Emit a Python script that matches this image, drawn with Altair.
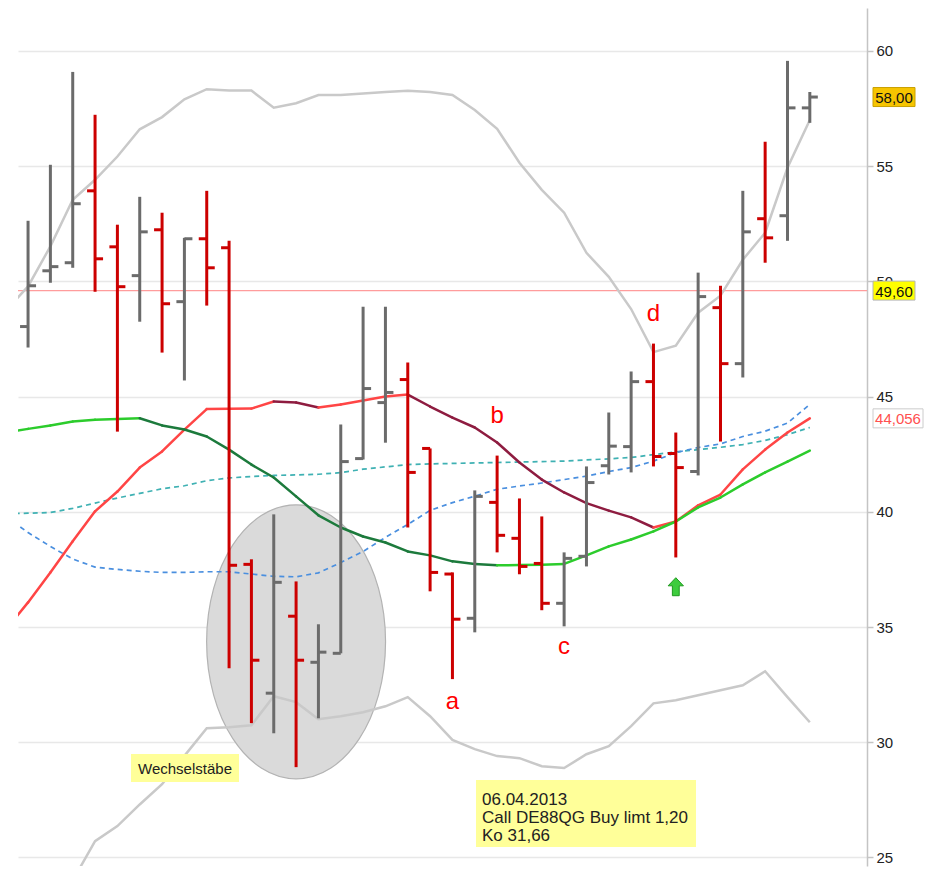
import altair as alt
import pandas as pd

# ---------------- data ----------------
bar_index = list(range(36))
opens  = [48.04, 50.46, 50.81, 53.93, 51.50, 50.25, 52.24, 49.12, 51.85, 51.46,
          37.72, 32.13, 35.47, 33.47, 33.86, 42.31, 44.74, 45.74, 42.75, 37.30,
          35.38, 40.41, 38.85, 37.76, 36.03, 38.07, 42.00, 42.83, 45.65, 42.53,
          41.75, 48.86, 46.43, 52.72, 52.85, 57.53]
highs  = [52.63, 55.06, 59.09, 57.23, 52.46, 53.67, 52.98, 51.89, 53.93, 51.76,
          37.94, 39.89, 36.98, 35.12, 43.79, 48.90, 48.90, 46.48, 42.75, 37.37,
          40.93, 42.44, 40.58, 39.80, 38.24, 41.97, 44.31, 46.09, 47.30, 43.44,
          50.38, 49.81, 53.93, 56.06, 59.57, 58.22]
lows   = [47.13, 49.94, 50.59, 49.55, 43.48, 48.25, 46.91, 45.70, 48.95, 33.21,
          30.83, 30.39, 28.92, 31.04, 33.86, 42.27, 43.00, 39.32, 36.55, 32.74,
          34.77, 38.24, 37.29, 35.73, 35.03, 37.63, 41.62, 41.71, 41.97, 38.02,
          41.58, 43.05, 45.83, 50.81, 51.76, 56.88]
closes = [49.81, 50.64, 53.37, 50.98, 49.77, 52.15, 49.03, 51.85, 50.59, 37.68,
          33.56, 36.94, 33.56, 33.91, 42.18, 45.35, 45.18, 41.71, 37.37, 35.34,
          40.67, 38.98, 37.63, 36.03, 37.98, 41.27, 42.85, 45.65, 42.40, 41.92,
          49.34, 46.43, 52.15, 51.89, 57.53, 58.00]

# indicator lines (index -1 is the bar just left of the visible area)
line_index = list(range(-1, 36))
upper_band = [48.73, 49.78, 51.52, 53.54, 54.41, 55.42, 56.60, 57.13, 57.90, 58.34,
              58.28, 58.28, 57.54, 57.73, 58.09, 58.09, 58.15, 58.22, 58.27, 58.22,
              58.09, 57.44, 56.62, 55.15, 53.97, 52.98, 51.24, 50.20, 48.80, 46.93,
              47.21, 48.64, 49.38, 50.94, 52.11, 54.93, 57.00]
lower_index = list(range(2, 36))
lower_band = [24.00, 25.71, 26.36, 27.30, 28.18, 29.41, 30.61, 30.65, 30.74, 32.00,
              31.74, 31.00, 31.13, 31.30, 31.56, 31.96, 31.13, 30.10, 29.70, 29.40,
              29.31, 28.96, 28.88, 29.48, 29.83, 30.70, 31.69, 31.82, 32.04, 32.26,
              32.47, 33.08, 31.96, 30.87]
red_ma = [34.87, 36.07, 37.37, 38.72, 40.02, 40.88, 41.92, 42.62, 43.57, 44.46,
          44.47, 44.48, 44.79, 44.74, 44.53, 44.66, 44.83, 45.00, 45.09, 44.57,
          44.09, 43.66, 43.01, 42.14, 41.40, 40.84, 40.38, 40.05, 39.76, 39.32,
          39.58, 40.28, 40.75, 41.84, 42.70, 43.44, 44.056]
green_ma = [43.45, 43.60, 43.75, 43.92, 44.00, 44.03, 44.06, 43.75, 43.57, 43.27,
            42.70, 42.05, 41.49, 40.67, 39.85, 39.32, 38.93, 38.67, 38.28, 38.11,
            37.85, 37.74, 37.68, 37.69, 37.70, 37.74, 38.11, 38.50, 38.80, 39.15,
            39.58, 40.19, 40.62, 41.19, 41.71, 42.18, 42.66]
teal_dash = [39.92, 39.94, 39.97, 40.15, 40.38, 40.60, 40.80, 41.00, 41.13, 41.35,
             41.47, 41.53, 41.58, 41.60, 41.63, 41.70, 41.85, 41.95, 42.05, 42.08,
             42.10, 42.12, 42.14, 42.16, 42.18, 42.20, 42.25, 42.30, 42.36, 42.48,
             42.60, 42.70, 42.80, 42.92, 43.10, 43.35, 43.66]
blue_dash = [39.80, 39.10, 38.50, 37.95, 37.60, 37.50, 37.42, 37.37, 37.37, 37.40,
             37.40, 37.30, 37.20, 37.18, 37.35, 37.80, 38.28, 38.89, 39.45, 40.06,
             40.40, 40.68, 40.98, 41.12, 41.25, 41.40, 41.55, 41.75, 41.92, 42.20,
             42.57, 42.79, 42.95, 43.27, 43.50, 43.85, 44.66]

ref_level = 49.60
y_ticks = [25, 30, 35, 40, 45, 50, 55, 60]

# annotations
letters = ["a", "b", "c", "d"]
letter_index = [19.0, 21.0, 24.0, 28.0]
letter_value = [31.45, 43.86, 33.84, 48.26]
arrow_index, arrow_value = [29.0], [36.75]
ellipse_index, ellipse_value = [12.0], [34.36]
price_labels = [("58,00", 58.00), ("49,60", 49.60), ("44,056", 44.056)]

FONT = "Liberation Sans"

# ---------------- scales ----------------
xs = alt.Scale(domain=[-0.45, 37.56], nice=False, zero=False)
ys = alt.Scale(domain=[24.63, 61.864], nice=False, zero=False)

def X(f):
    return alt.X(f, type="quantitative", scale=xs, axis=None, title=None)

def Y(f, axis=alt.Undefined):
    return alt.Y(f, type="quantitative", scale=ys, axis=axis, title=None)

# ---------------- tables ----------------
ohlc = pd.DataFrame({"i": bar_index, "open": opens, "high": highs,
                     "low": lows, "close": closes})
ohlc["dir"] = ["down" if c < o else "up" for o, c in zip(opens, closes)]
bar_color = alt.Color("dir:N", scale=alt.Scale(domain=["up", "down"],
                                               range=["#6b6b6b", "#cc0000"]), legend=None)

bands = pd.concat([
    pd.DataFrame({"i": line_index, "v": upper_band, "s": "upper"}),
    pd.DataFrame({"i": lower_index, "v": lower_band, "s": "lower"}),
])
dashes = pd.concat([
    pd.DataFrame({"i": line_index, "v": teal_dash, "s": "teal"}),
    pd.DataFrame({"i": line_index, "v": blue_dash, "s": "blue"}),
])

seg_rows = []
for name, vals in (("red", red_ma), ("green", green_ma)):
    for k in range(len(vals) - 1):
        d = "up" if vals[k + 1] >= vals[k] else "dn"
        for j in (k, k + 1):
            seg_rows.append({"i": line_index[j], "v": vals[j],
                             "seg": f"{name}{k}", "key": f"{name}_{d}"})
segs = pd.DataFrame(seg_rows)

# ---------------- layers ----------------
axis_y = alt.Axis(orient="right", values=y_ticks, format="d", grid=True,
                  gridColor="#e8e8e8", gridWidth=1.5, domainColor="#c4c4c4",
                  domainWidth=1.5, tickColor="#c4c4c4", tickSize=6, tickWidth=1.5,
                  labelFont=FONT, labelFontSize=15, labelColor="#222222",
                  labelPadding=3)

base_axis = alt.Chart(pd.DataFrame({"v": y_ticks})).mark_point(opacity=0).encode(
    y=Y("v", axis=axis_y))

ELLIPSE = "M -0.653 0 A 0.653 1 0 1 0 0.653 0 A 0.653 1 0 1 0 -0.653 0 Z"
ellipse = alt.Chart(pd.DataFrame({"i": ellipse_index, "v": ellipse_value})).mark_point(
    shape=ELLIPSE, size=75076, filled=True, fill="#dadada", stroke="#b3b3b3",
    strokeWidth=1.2, opacity=1, fillOpacity=1
).encode(x=X("i"), y=Y("v"))

ref_line = alt.Chart(pd.DataFrame({"v": [ref_level]})).mark_rule(
    color="#ff9c9c", strokeWidth=1.2).encode(y=Y("v"))

band_lines = alt.Chart(bands).mark_line(color="#c9c9c9", strokeWidth=2.5, clip=True).encode(
    x=X("i"), y=Y("v"), detail="s:N")

dash_lines = alt.Chart(dashes).mark_line(strokeWidth=1.7, strokeDash=[5, 4], clip=True).encode(
    x=X("i"), y=Y("v"),
    color=alt.Color("s:N", scale=alt.Scale(domain=["teal", "blue"],
                                           range=["#3fb1b3", "#4a8fdf"]), legend=None))

ma_lines = alt.Chart(segs).mark_line(strokeWidth=2.5, strokeCap="round", clip=True).encode(
    x=X("i"), y=Y("v"), detail="seg:N",
    color=alt.Color("key:N", scale=alt.Scale(
        domain=["red_up", "red_dn", "green_up", "green_dn"],
        range=["#ff4545", "#8e1c40", "#2ccc2c", "#1c7a3c"]), legend=None))

hl = alt.Chart(ohlc).mark_rule(strokeWidth=3, clip=True).encode(
    x=X("i"), y=Y("low"), y2="high:Q", color=bar_color)
op = alt.Chart(ohlc).mark_rule(strokeWidth=3, x2Offset=-8, clip=True).encode(
    x=X("i"), x2="i:Q", y=Y("open"), color=bar_color)
cl = alt.Chart(ohlc).mark_rule(strokeWidth=3, x2Offset=8, clip=True).encode(
    x=X("i"), x2="i:Q", y=Y("close"), color=bar_color)

letter_txt = alt.Chart(pd.DataFrame({"t": letters, "i": letter_index, "v": letter_value})).mark_text(
    font=FONT, fontSize=24, color="#ff0000", align="center", baseline="alphabetic").encode(
    x=X("i"), y=Y("v"), text="t:N")

ARROW = "M 0 -1 L 0.85 -0.1 L 0.38 -0.1 L 0.38 1 L -0.38 1 L -0.38 -0.1 L -0.85 -0.1 Z"
arrow = alt.Chart(pd.DataFrame({"i": arrow_index, "v": arrow_value})).mark_point(
    shape=ARROW, size=324, filled=True, fill="#3dcc3d", stroke="#1f9a1f",
    strokeWidth=1, opacity=1).encode(x=X("i"), y=Y("v"))

# note boxes (pixel positions inside the plot area)
one = pd.DataFrame({"d": [0]})
wech_box = alt.Chart(one).mark_rect(fill="#ffff99").encode(
    x=alt.value(113), x2=alt.value(221), y=alt.value(746), y2=alt.value(774))
wech_txt = alt.Chart(one).mark_text(font=FONT, fontSize=15, color="#222222",
                                    align="center", baseline="middle").encode(
    x=alt.value(167), y=alt.value(761), text=alt.value("Wechselstäbe"))
info_box = alt.Chart(one).mark_rect(fill="#ffff99").encode(
    x=alt.value(458), x2=alt.value(678), y=alt.value(772), y2=alt.value(839))
info_txt = alt.Chart(one).mark_text(font=FONT, fontSize=17, color="#222222",
                                    align="left", baseline="alphabetic", lineHeight=18.3).encode(
    x=alt.value(464), y=alt.value(796.5),
    text=alt.value(["06.04.2013", "Call DE88QG Buy limt 1,20", "Ko 31,66"]))

# price labels on the right axis
label_styles = {
    "58,00": dict(x0=855, x1=897, fill="#f6c400", stroke="#c9a100", tc="#111111"),
    "49,60": dict(x0=855, x1=897, fill="#ffff00", stroke="#b5b5b5", tc="#111111"),
    "44,056": dict(x0=855, x1=905, fill="#ffffff", stroke="#cccccc", tc="#ff5050"),
}
price_layers = []
for lab, val in price_labels:
    st = label_styles[lab]
    d = pd.DataFrame({"v": [val]})
    price_layers.append(alt.Chart(d).mark_rect(
        fill=st["fill"], stroke=st["stroke"], strokeWidth=1,
        yOffset=-9.5, y2Offset=9.5).encode(
        x=alt.value(st["x0"]), x2=alt.value(st["x1"]), y=Y("v"), y2="v:Q"))
    price_layers.append(alt.Chart(d).mark_text(
        font=FONT, fontSize=15, color=st["tc"], align="center", baseline="middle", dy=1).encode(
        x=alt.value((st["x0"] + st["x1"]) / 2), y=Y("v"), text=alt.value(lab)))

chart = alt.layer(
    base_axis, ellipse, ref_line, band_lines, dash_lines, ma_lines,
    hl, op, cl, letter_txt, arrow, wech_box, wech_txt, info_box, info_txt,
    *price_layers
).resolve_scale(color="independent").properties(
    width=849, height=858,
    padding={"left": 10, "top": 0, "right": 57, "bottom": 3},
    autosize=alt.AutoSizeParams(type="none"),
    background="white",
).configure_view(stroke=None)

chart.save("out.html", embed_options={"renderer": "svg", "actions": False})
